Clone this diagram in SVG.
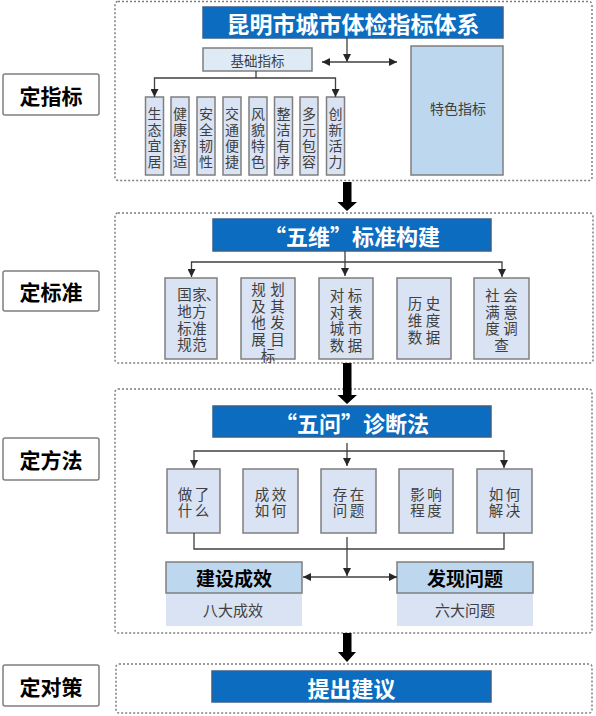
<svg xmlns="http://www.w3.org/2000/svg" width="596" height="716" viewBox="0 0 596 716">
<defs>
<style>
text{font-family:"Noto Sans CJK SC","Noto Sans",sans-serif;dominant-baseline:central;}
.frame{fill:none;stroke:#7F7F7F;stroke-width:1.5;stroke-dasharray:2 2;}
.lbl rect{fill:#FFFFFF;stroke:#7F7F7F;stroke-width:1.5;}
.lbl text{font-size:21px;font-weight:bold;fill:#000;text-anchor:middle;}
.bar rect{fill:#0B6CC0;stroke:#3A5F8C;stroke-width:1.5;}
.bar text{font-size:22px;font-weight:bold;fill:#FFFFFF;text-anchor:middle;}
.box rect{fill:#DAE3F3;stroke:#7F7F7F;stroke-width:1.5;}
.box text{font-size:14.5px;fill:#404040;text-anchor:middle;}
.sm text{font-size:14px;}
.res rect.h{fill:#BDD7EE;stroke:#7F7F7F;stroke-width:1.5;}
.res rect.s{fill:#DAE3F3;stroke:none;}
.res text.h{font-size:19px;font-weight:bold;fill:#000;text-anchor:middle;}
.res text.s{font-size:15px;fill:#404040;text-anchor:middle;}
.conn line,.conn polyline{fill:none;stroke:#404040;stroke-width:1.3;}
.big{fill:#000;}
</style>
<marker id="ah" viewBox="0 0 10 10" refX="10" refY="5" markerWidth="8" markerHeight="8" markerUnits="userSpaceOnUse" orient="auto-start-reverse">
<path d="M0,0 L10,5 L0,10 z" fill="#262626"/>
</marker>
</defs>
<rect width="596" height="716" fill="#FFFFFF"/>

<g id="frames">
<rect class="frame" x="115" y="1.5" width="477" height="179" rx="3"/>
<rect class="frame" x="115" y="213" width="478" height="150" rx="3"/>
<rect class="frame" x="115" y="389" width="477" height="244" rx="3"/>
<rect class="frame" x="116" y="664" width="476" height="49" rx="3"/>
</g>

<g id="label-zhibiao" class="lbl"><rect x="3" y="74" width="96" height="41" rx="2"/><text x="51" y="94.5">定指标</text></g>
<g id="label-biaozhun" class="lbl"><rect x="3" y="271" width="96" height="40" rx="2"/><text x="51" y="291">定标准</text></g>
<g id="label-fangfa" class="lbl"><rect x="3" y="438" width="96" height="42" rx="2"/><text x="51" y="459">定方法</text></g>
<g id="label-duice" class="lbl"><rect x="3" y="665" width="96" height="41" rx="2"/><text x="51" y="685.5">定对策</text></g>

<g id="title-1" class="bar"><rect x="203" y="7" width="300" height="31"/><text x="353" y="22.5" style="font-size:23px">昆明市城市体检指标体系</text></g>
<g id="jichu" class="box"><rect x="203" y="48" width="109" height="23" style="fill:#DEEBF7"/><text x="257.5" y="59.5" style="font-size:13.5px">基础指标</text></g>
<g id="tese" class="box"><rect x="411" y="46" width="92" height="129" style="fill:#BDD7EE"/><text x="458" y="108" style="font-size:14px">特色指标</text></g>

<g id="b1-1" class="box sm"><rect x="145.5" y="97" width="18" height="78"/><text x="154.5 154.5 154.5 154.5" y="113 129 145 161">生态宜居</text></g>
<g id="b1-2" class="box sm"><rect x="171" y="97" width="18" height="78"/><text x="180 180 180 180" y="113 129 145 161">健康舒适</text></g>
<g id="b1-3" class="box sm"><rect x="197" y="97" width="18" height="78"/><text x="206 206 206 206" y="113 129 145 161">安全韧性</text></g>
<g id="b1-4" class="box sm"><rect x="223" y="97" width="18" height="78"/><text x="232 232 232 232" y="113 129 145 161">交通便捷</text></g>
<g id="b1-5" class="box sm"><rect x="249" y="97" width="18" height="78"/><text x="258 258 258 258" y="113 129 145 161">风貌特色</text></g>
<g id="b1-6" class="box sm"><rect x="274.5" y="97" width="18" height="78"/><text x="283.5 283.5 283.5 283.5" y="113 129 145 161">整洁有序</text></g>
<g id="b1-7" class="box sm"><rect x="300" y="97" width="18" height="78"/><text x="309 309 309 309" y="113 129 145 161">多元包容</text></g>
<g id="b1-8" class="box sm"><rect x="326.5" y="97" width="18" height="78"/><text x="335.5 335.5 335.5 335.5" y="113 129 145 161">创新活力</text></g>

<g id="title-2" class="bar"><rect x="213" y="219" width="278" height="32"/><text x="352" y="235">“五维”标准构建</text></g>
<g id="b2-1" class="box"><rect x="165" y="278" width="52" height="81"/>
<text x="184.5 199.5 213 184.5 199.5 184.5 199.5 184.5 199.5" y="293 293 293 310 310 327 327 343 343">国家、地方标准规范</text></g>
<g id="b2-2" class="box"><rect x="241" y="278" width="54" height="81"/>
<text x="258.5 277.5 258.5 277.5 258.5 277.5 258.5 277.5 268" y="288 288 305 305 321 321 338 338 354">规划及其他发展目标</text></g>
<g id="b2-3" class="box"><rect x="319" y="278" width="54" height="81"/>
<text x="337 355 337 355 337 355 337 355" y="294 294 311 311 327 327 344 344">对标对表城市数据</text></g>
<g id="b2-4" class="box"><rect x="397" y="278" width="54" height="81"/>
<text x="415 433 415 433 415 433" y="302 302 319 319 336 336">历史维度数据</text></g>
<g id="b2-5" class="box"><rect x="474" y="278" width="55" height="81"/>
<text x="492.5 510.5 492.5 510.5 492.5 510.5 501.5" y="294 294 311 311 327 327 344">社会满意度调查</text></g>

<g id="title-3" class="bar"><rect x="213" y="406" width="278" height="31"/><text x="352" y="421.5">“五问”诊断法</text></g>
<g id="b3-1" class="box"><rect x="167" y="469" width="53" height="64"/>
<text x="185 202 185 202" y="493 493 509 509">做了什么</text></g>
<g id="b3-2" class="box"><rect x="243" y="469" width="55" height="64"/>
<text x="262 279 262 279" y="493 493 509 509">成效如何</text></g>
<g id="b3-3" class="box"><rect x="321" y="469" width="55" height="64"/>
<text x="340 357 340 357" y="493 493 509 509">存在问题</text></g>
<g id="b3-4" class="box"><rect x="399" y="469" width="54" height="64"/>
<text x="417.5 434.5 417.5 434.5" y="493 493 509 509">影响程度</text></g>
<g id="b3-5" class="box"><rect x="477" y="469" width="55" height="64"/>
<text x="496 513 496 513" y="493 493 509 509">如何解决</text></g>

<g id="jianshe" class="res"><rect class="s" x="166" y="593" width="136" height="33"/><rect class="h" x="166" y="562" width="136" height="31"/>
<text class="h" x="234" y="577.5">建设成效</text><text class="s" x="233" y="609.5">八大成效</text></g>
<g id="faxian" class="res"><rect class="s" x="397" y="593" width="136" height="33"/><rect class="h" x="397" y="562" width="136" height="31"/>
<text class="h" x="465" y="577.5">发现问题</text><text class="s" x="465" y="609.5">六大问题</text></g>

<g id="title-4" class="bar"><rect x="212" y="671" width="279" height="31"/><text x="351.5" y="686.5">提出建议</text></g>

<g id="connectors" class="conn">
<line x1="347" y1="38" x2="347" y2="62" marker-end="url(#ah)"/>
<line x1="322" y1="62" x2="397" y2="62" marker-start="url(#ah)" marker-end="url(#ah)"/>
<polyline points="256,71 256,78"/>
<polyline points="154.5,97 154.5,78 335.5,78 335.5,97" marker-start="url(#ah)" marker-end="url(#ah)"/>

<line x1="345" y1="251" x2="345" y2="276" marker-end="url(#ah)"/>
<polyline points="191.5,277 191.5,262 502,262 502,277" marker-start="url(#ah)" marker-end="url(#ah)"/>

<line x1="347" y1="443" x2="347" y2="466" marker-end="url(#ah)"/>
<polyline points="194,468 194,451 504,451 504,468" marker-start="url(#ah)" marker-end="url(#ah)"/>

<polyline points="194,533 194,549 504,549 504,533"/>
<line x1="347" y1="537" x2="347" y2="576" marker-end="url(#ah)"/>
<line x1="303" y1="577" x2="397" y2="577" marker-start="url(#ah)" marker-end="url(#ah)"/>

<path class="big" d="M343,182 H351.5 V202 H357 L347,211 L337.5,202 H343 Z"/>
<path class="big" d="M343,363 H351.5 V395 H357 L347,404 L337.5,395 H343 Z"/>
<path class="big" d="M343,633 H351.5 V652 H356 L347,662 L338,652 H343 Z"/>
</g>
</svg>
